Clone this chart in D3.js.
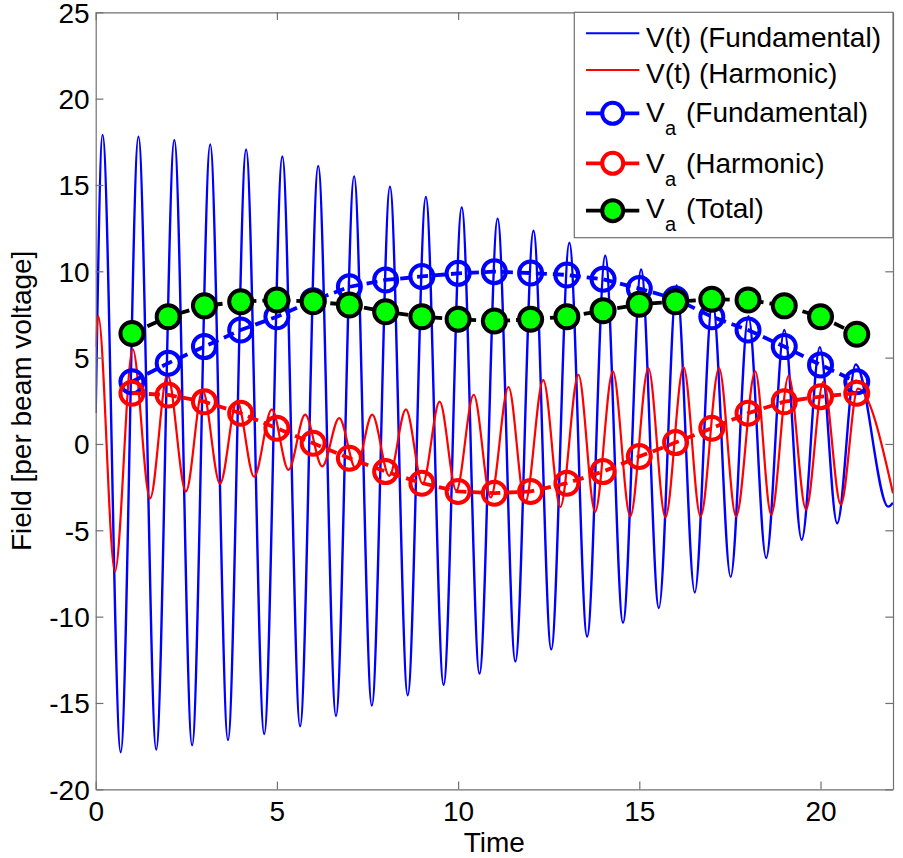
<!DOCTYPE html>
<html><head><meta charset="utf-8">
<script src="https://cdn.jsdelivr.net/npm/d3@7"></script>
<style>
body{margin:0;background:#fff}
text{font-family:"Liberation Sans",Arial,sans-serif;fill:#000}
</style>
</head><body>
<svg id="chart" width="903" height="858"></svg>
<script>
// ---------- data ----------
const markerTimes = [1,2,3,4,5,6,7,8,9,10,11,12,13,14,15,16,17,18,19,20,21];
const vaFundamental = [3.6,4.68,5.64,6.6,7.37,8.3,9.1,9.5,9.7,9.88,9.98,9.9,9.79,9.54,9.0,8.4,7.37,6.6,5.64,4.58,3.6];
const vaHarmonic = [2.94,2.84,2.45,1.78,0.91,0.04,-0.83,-1.6,-2.27,-2.75,-2.85,-2.75,-2.27,-1.6,-0.73,0.08,0.91,1.78,2.45,2.74,2.94];
const vaTotal = [6.4,7.37,8.0,8.24,8.34,8.24,8.05,7.66,7.37,7.22,7.12,7.22,7.37,7.72,8.09,8.24,8.38,8.34,8.0,7.37,6.35];

// V(t) fundamental: turning points of the waveform
const fundTimes = [0,0.19,0.69,1.18,1.67,2.17,2.66,3.16,3.65,4.15,4.65,5.15,5.64,6.14,6.63,7.13,7.62,8.12,8.61,9.11,9.6,10.1,10.59,11.09,11.58,12.08,12.57,13.07,13.56,14.06,14.55,15.05,15.54,16.03,16.53,17.02,17.52,18.01,18.5,19.0,19.48,19.98,20.46,20.97,21.87,22];
const fundValues = [1.8,17.9,-17.85,17.8,-17.7,17.6,-17.45,17.35,-17.15,17.05,-16.8,16.65,-16.35,16.1,-15.75,15.5,-15.15,14.9,-14.55,14.3,-13.95,13.7,-13.3,13.05,-12.6,12.35,-11.9,11.65,-11.15,10.9,-10.35,10.1,-9.5,9.2,-8.6,8.3,-7.7,7.4,-6.6,6.6,-5.55,5.6,-4.6,4.6,-3.63,-3.4];

// V(t) harmonic: turning points of the waveform
const harmTimes = [0,0.07,0.53,1.02,1.5,1.98,2.49,2.95,3.43,3.9,4.37,4.86,5.32,5.78,6.25,6.72,7.18,7.63,8.1,8.56,9.02,9.49,9.95,10.43,10.9,11.39,11.85,12.35,12.82,13.32,13.78,14.27,14.75,15.25,15.72,16.22,16.69,17.2,17.67,18.2,18.64,19.12,19.6,20.08,20.56,21.03,22];
const harmValues = [5.6,7.4,-7.4,5.5,-3.15,4.0,-2.75,3.1,-2.3,2.5,-1.9,2.0,-1.5,1.7,-1.3,1.5,-1.45,1.7,-1.85,2.0,-2.3,2.45,-2.7,2.85,-3.1,3.3,-3.4,3.7,-3.65,4.0,-3.93,4.2,-4.2,4.4,-4.25,4.45,-4.2,4.4,-4.2,4.2,-4.1,3.95,-3.8,3.6,-3.5,3.2,-2.85];

const xTicks = [0,5,10,15,20];
const yTicks = [-20,-15,-10,-5,0,5,10,15,20,25];
const legendLabels = ["V(t) (Fundamental)","V(t) (Harmonic)","(Fundamental)","(Harmonic)","(Total)"];

// ---------- layout ----------
const L = 95.7, R = 893, T = 12.3, B = 789.3;
const axisColor = "#707070";
const svg = d3.select("#chart");
const x = d3.scaleLinear().domain([0,22]).range([L,R]);
const y = d3.scaleLinear().domain([-20,25]).range([B,T]);
const fmt = d => String(d);

svg.append("defs").append("clipPath").attr("id","clip")
  .append("rect").attr("x",L).attr("y",T).attr("width",R-L).attr("height",B-T);

const plot = svg.append("g").attr("clip-path","url(#clip)");

const wave = d3.line().x(d=>x(d[0])).y(d=>y(d[1])).curve(d3.curveMonotoneX);
const straight = d3.line().x(d=>x(d[0])).y(d=>y(d[1]));

plot.append("path").datum(d3.zip(fundTimes,fundValues))
  .attr("d",wave).attr("fill","none").attr("stroke","#0000ff").attr("stroke-width",2.4);
plot.append("path").datum(d3.zip(harmTimes,harmValues))
  .attr("d",wave).attr("fill","none").attr("stroke","#ff0000").attr("stroke-width",2.2);

function markerSeries(vals, color, fill){
  const pts = d3.zip(markerTimes, vals);
  plot.append("path").datum(pts).attr("d",straight).attr("fill","none")
    .attr("stroke",color).attr("stroke-width",3.8).attr("stroke-dasharray","11,6");
  plot.append("g").selectAll("circle").data(pts).join("circle")
    .attr("cx",d=>x(d[0])).attr("cy",d=>y(d[1])).attr("r",11.5)
    .attr("fill",fill).attr("stroke",color).attr("stroke-width",4);
}
markerSeries(vaFundamental,"#0000ff","none");
markerSeries(vaHarmonic,"#ff0000","none");
markerSeries(vaTotal,"#000000","#00ff00");

// ---------- axes ----------
const fontSize = 28;
const xAxisB = d3.axisBottom(x).tickValues(xTicks).tickSizeInner(-7.7).tickSizeOuter(0).tickPadding(0).tickFormat(fmt);
const gxb = svg.append("g").attr("transform",`translate(0,${B})`).call(xAxisB);
const xAxisT = d3.axisTop(x).tickValues(xTicks).tickSizeInner(-7.7).tickSizeOuter(0).tickFormat("");
const gxt = svg.append("g").attr("transform",`translate(0,${T})`).call(xAxisT);
const yAxisL = d3.axisLeft(y).tickValues(yTicks).tickSizeInner(-7.7).tickSizeOuter(0).tickPadding(0).tickFormat(fmt);
const gyl = svg.append("g").attr("transform",`translate(${L},0)`).call(yAxisL);
const yAxisR = d3.axisRight(y).tickValues(yTicks).tickSizeInner(-7.7).tickSizeOuter(0).tickFormat("");
const gyr = svg.append("g").attr("transform",`translate(${R},0)`).call(yAxisR);

[gxb,gxt,gyl,gyr].forEach(g=>{
  g.select(".domain").attr("stroke",axisColor).attr("stroke-width",1.2);
  g.selectAll(".tick line").attr("stroke",axisColor).attr("stroke-width",1.2);
  g.selectAll("text").attr("font-size",fontSize).attr("fill","#000")
   .attr("font-family","'Liberation Sans',Arial,sans-serif");
});
gxb.selectAll(".tick text").attr("dy",null).attr("y",null)
  .attr("transform","translate(0,31.5)");
gyl.selectAll(".tick text").attr("x",-6).attr("dy","0.35em");

svg.append("text").attr("x",(L+R)/2).attr("y",851.5).attr("text-anchor","middle")
  .attr("font-size",fontSize).text("Time");
svg.append("text").attr("transform",`translate(31,${(T+B)/2}) rotate(-90)`)
  .attr("text-anchor","middle").attr("font-size",fontSize).text("Field [per beam voltage]");

// ---------- legend ----------
const lg = svg.append("g");
lg.append("rect").attr("x",574.3).attr("y",T).attr("width",R-574.3).attr("height",237.7-T)
  .attr("fill","#fff").attr("stroke",axisColor).attr("stroke-width",1.2);
const lineY = [33.3,70,113.3,163.3,210.7];
const baseY = [46.7,83.3,121.7,173,218];
const lx0 = 586, lx1 = 639.3, lxm = 612.7, tx = 646;
const legendStyles = [
  {c:"#0000ff",w:2,m:false},{c:"#ff0000",w:2,m:false},
  {c:"#0000ff",w:3.8,m:true,f:"none"},{c:"#ff0000",w:3.8,m:true,f:"none"},{c:"#000000",w:3.8,m:true,f:"#00ff00"}
];
legendLabels.forEach((lab,i)=>{
  const s = legendStyles[i];
  lg.append("line").attr("x1",lx0).attr("x2",lx1).attr("y1",lineY[i]).attr("y2",lineY[i])
    .attr("stroke",s.c).attr("stroke-width",s.w);
  if(s.m){
    lg.append("circle").attr("cx",lxm).attr("cy",lineY[i]).attr("r",10.5)
      .attr("fill",s.f==="none"?"#fff":s.f).attr("stroke",s.c).attr("stroke-width",4);
    lg.append("text").attr("x",tx).attr("y",baseY[i]).attr("font-size",fontSize).text("V");
    lg.append("text").attr("x",tx+19).attr("y",baseY[i]+13).attr("font-size",20).text("a");
    lg.append("text").attr("x",tx+40).attr("y",baseY[i]).attr("font-size",fontSize).text(lab);
  } else {
    lg.append("text").attr("x",tx).attr("y",baseY[i]).attr("font-size",fontSize).text(lab);
  }
});
</script>
</body></html>
